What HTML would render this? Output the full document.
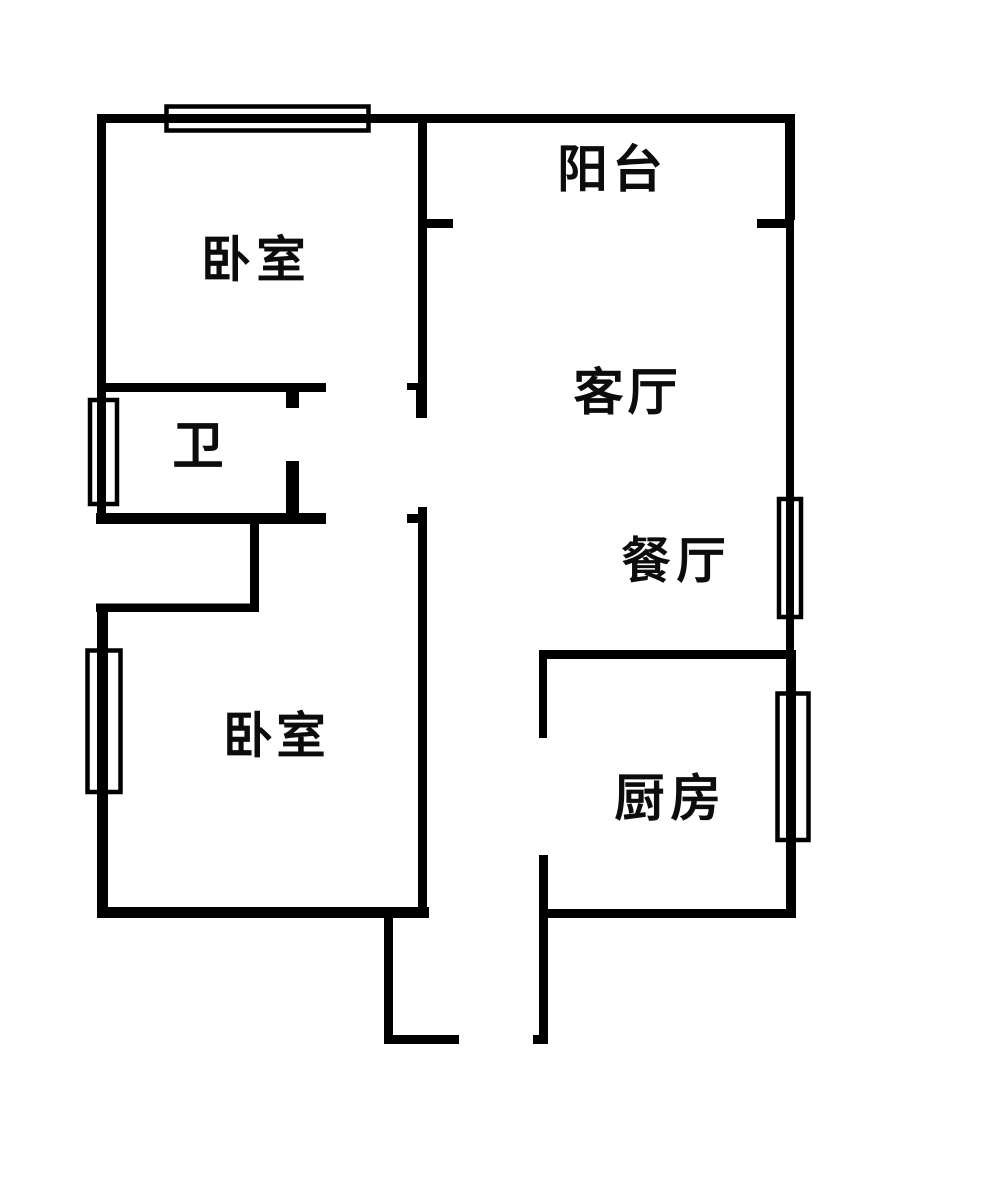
<!DOCTYPE html>
<html><head><meta charset="utf-8">
<style>
html,body{margin:0;padding:0;background:#fff;}
svg{display:block;}
text{font-family:"Liberation Sans","Noto Sans CJK SC",sans-serif;fill:#0c0c0c;stroke:#0c0c0c;stroke-width:0.7;font-weight:500;}
</style></head>
<body>
<svg width="1000" height="1183" viewBox="0 0 1000 1183" xmlns="http://www.w3.org/2000/svg">
<rect width="1000" height="1183" fill="#fff"/>
<!-- windows -->
<g fill="#fff" stroke="#000" stroke-width="4.500">
<rect x="166.500" y="106.500" width="202" height="24"/>
<rect x="90" y="400" width="27" height="104"/>
<rect x="87.500" y="650.500" width="33" height="141.500"/>
<rect x="779" y="499" width="22" height="118"/>
<rect x="777.500" y="693.500" width="31" height="146.500"/>
</g>
<g fill="#000">
<!-- outer top -->
<rect x="97" y="114" width="698" height="9"/>
<rect x="97" y="114" width="9" height="270"/>
<rect x="97" y="383" width="9" height="140"/>
<rect x="785" y="114" width="10" height="106"/>
<rect x="786" y="219" width="8" height="432"/>
<rect x="786" y="650" width="10" height="268"/>
<!-- inner vertical 1 -->
<rect x="418" y="114" width="9" height="270"/>
<rect x="416" y="383" width="11" height="35"/>
<rect x="427" y="219" width="26" height="9"/>
<rect x="757" y="219" width="30" height="9"/>
<rect x="407" y="383" width="12" height="7"/>
<rect x="418" y="507" width="9" height="405"/>
<rect x="407" y="514" width="12" height="9"/>
<!-- bath -->
<rect x="97" y="383" width="229" height="9"/>
<rect x="96" y="513" width="230" height="11"/>
<rect x="286" y="392" width="13" height="16"/>
<rect x="286" y="461" width="13" height="53"/>
<!-- notch -->
<rect x="250" y="522" width="9" height="90"/>
<rect x="96" y="603.500" width="163" height="8.500"/>
<rect x="97" y="604" width="11" height="314"/>
<rect x="97" y="907" width="332" height="11"/>
<!-- entry -->
<rect x="384" y="915" width="9" height="129"/>
<rect x="384" y="1035" width="75" height="9"/>
<rect x="539" y="855" width="9" height="189"/>
<rect x="533" y="1035" width="15" height="9"/>
<rect x="545" y="909" width="250" height="9"/>
<!-- kitchen -->
<rect x="539" y="650" width="257" height="9"/>
<rect x="539" y="650" width="8" height="88"/>
</g>
<text x="557" y="187" font-size="51" letter-spacing="4">阳台</text>
<text x="201" y="277" font-size="50" letter-spacing="5">卧室</text>
<text x="573" y="410" font-size="51" letter-spacing="3">客厅</text>
<text x="172" y="464" font-size="52">卫</text>
<text x="621" y="578" font-size="50" letter-spacing="5">餐厅</text>
<text x="223" y="753" font-size="50" letter-spacing="3">卧室</text>
<text x="614" y="816" font-size="51" letter-spacing="5">厨房</text>
</svg>
</body></html>
